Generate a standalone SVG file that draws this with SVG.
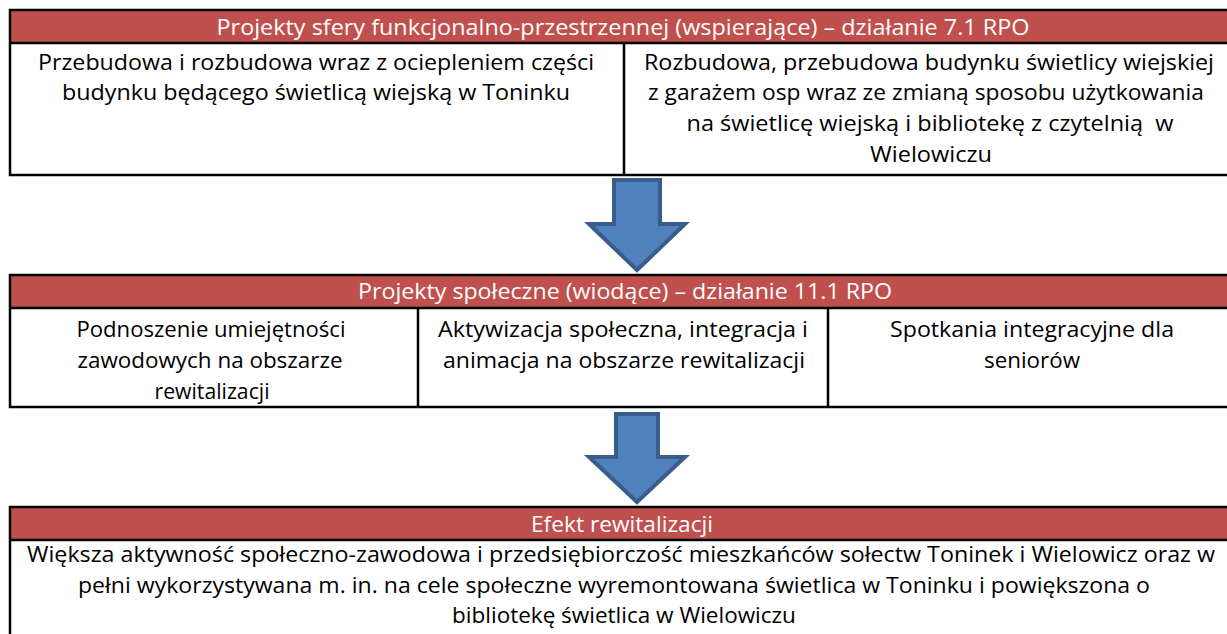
<svg xmlns="http://www.w3.org/2000/svg" width="1227" height="634" viewBox="0 0 1227 634">
<style>
.hdr{fill:#C0504D}
.cell{fill:#FFFFFF}
.ln{stroke:#000000;stroke-width:2.5;fill:none}
.t{font-family:"Open Sans","Liberation Sans",sans-serif;font-size:22.5px;fill:#000000;text-anchor:middle}
.th{font-family:"Open Sans","Liberation Sans",sans-serif;font-size:22.5px;fill:#FFFFFF;text-anchor:middle}
.arrow{fill:#4F81BD;stroke:#385D8A;stroke-width:4;stroke-linejoin:miter}
</style>
<rect width="1227" height="634" fill="#FFFFFF"/>

<g id="top-header">
<rect class="hdr" x="10" y="10" width="1220" height="33"/>
<text class="th" x="623" y="35" textLength="813" lengthAdjust="spacingAndGlyphs">Projekty sfery funkcjonalno-przestrzennej (wspierające) – działanie 7.1 RPO</text>
</g>
<g id="top-left">
<rect class="cell" x="10" y="43" width="614" height="132"/>
<text class="t" x="316" y="70" textLength="556" lengthAdjust="spacingAndGlyphs">Przebudowa i rozbudowa wraz z ociepleniem części</text>
<text class="t" x="316" y="100" textLength="508" lengthAdjust="spacingAndGlyphs">budynku będącego świetlicą wiejską w Toninku</text>
</g>
<g id="top-right">
<rect class="cell" x="624" y="43" width="606" height="132"/>
<text class="t" x="929" y="70" textLength="570" lengthAdjust="spacingAndGlyphs">Rozbudowa, przebudowa budynku świetlicy wiejskiej</text>
<text class="t" x="926" y="100" textLength="556" lengthAdjust="spacingAndGlyphs">z garażem osp wraz ze zmianą sposobu użytkowania</text>
<text class="t" x="930" y="131" textLength="487" lengthAdjust="spacingAndGlyphs" xml:space="preserve">na świetlicę wiejską i bibliotekę z czytelnią  w</text>
<text class="t" x="931" y="162" textLength="122" lengthAdjust="spacingAndGlyphs">Wielowiczu</text>
</g>
<g id="top-lines">
<rect class="ln" x="10" y="10" width="1222" height="165"/>
<line class="ln" x1="10" y1="43" x2="1232" y2="43"/>
<line class="ln" x1="624" y1="43" x2="624" y2="175"/>
</g>

<g id="mid-header">
<rect class="hdr" x="10" y="275" width="1220" height="33"/>
<text class="th" x="625" y="299" textLength="534" lengthAdjust="spacingAndGlyphs">Projekty społeczne (wiodące) – działanie 11.1 RPO</text>
</g>
<g id="mid-1">
<rect class="cell" x="10" y="308" width="408" height="99"/>
<text class="t" x="211" y="337" textLength="269" lengthAdjust="spacingAndGlyphs">Podnoszenie umiejętności</text>
<text class="t" x="210" y="368" textLength="265" lengthAdjust="spacingAndGlyphs">zawodowych na obszarze</text>
<text class="t" x="212" y="399" textLength="115" lengthAdjust="spacingAndGlyphs">rewitalizacji</text>
</g>
<g id="mid-2">
<rect class="cell" x="418" y="308" width="410" height="99"/>
<text class="t" x="623" y="337" textLength="370" lengthAdjust="spacingAndGlyphs">Aktywizacja społeczna, integracja i</text>
<text class="t" x="624" y="368" textLength="362" lengthAdjust="spacingAndGlyphs">animacja na obszarze rewitalizacji</text>
</g>
<g id="mid-3">
<rect class="cell" x="828" y="308" width="402" height="99"/>
<text class="t" x="1032" y="337" textLength="284" lengthAdjust="spacingAndGlyphs">Spotkania integracyjne dla</text>
<text class="t" x="1032" y="368" textLength="96" lengthAdjust="spacingAndGlyphs">seniorów</text>
</g>
<g id="mid-lines">
<rect class="ln" x="10" y="275" width="1222" height="132"/>
<line class="ln" x1="10" y1="308" x2="1232" y2="308"/>
<line class="ln" x1="418" y1="308" x2="418" y2="407"/>
<line class="ln" x1="828" y1="308" x2="828" y2="407"/>
</g>

<g id="bottom-header">
<rect class="hdr" x="10" y="507" width="1220" height="33"/>
<text class="th" x="622" y="532" textLength="182" lengthAdjust="spacingAndGlyphs">Efekt rewitalizacji</text>
</g>
<g id="bottom-body">
<rect class="cell" x="10" y="540" width="1220" height="100"/>
<text class="t" x="621" y="562" textLength="1188" lengthAdjust="spacingAndGlyphs">Większa aktywność społeczno-zawodowa i przedsiębiorczość mieszkańców sołectw Toninek i Wielowicz oraz w</text>
<text class="t" x="614" y="593" textLength="1072" lengthAdjust="spacingAndGlyphs">pełni wykorzystywana m. in. na cele społeczne wyremontowana świetlica w Toninku i powiększona o</text>
<text class="t" x="624" y="623">bibliotekę świetlica w Wielowiczu</text>
</g>
<g id="bottom-lines">
<rect class="ln" x="10" y="507" width="1222" height="140"/>
<line class="ln" x1="10" y1="540" x2="1232" y2="540"/>
</g>

<g id="connectors">
<path class="arrow" d="M614,180 H660 V224 H685 L637,270 L589,224 H614 Z"/>
<path class="arrow" d="M616,414 H658 V457 H685 L637,502 L589,457 H616 Z"/>
</g>
</svg>
